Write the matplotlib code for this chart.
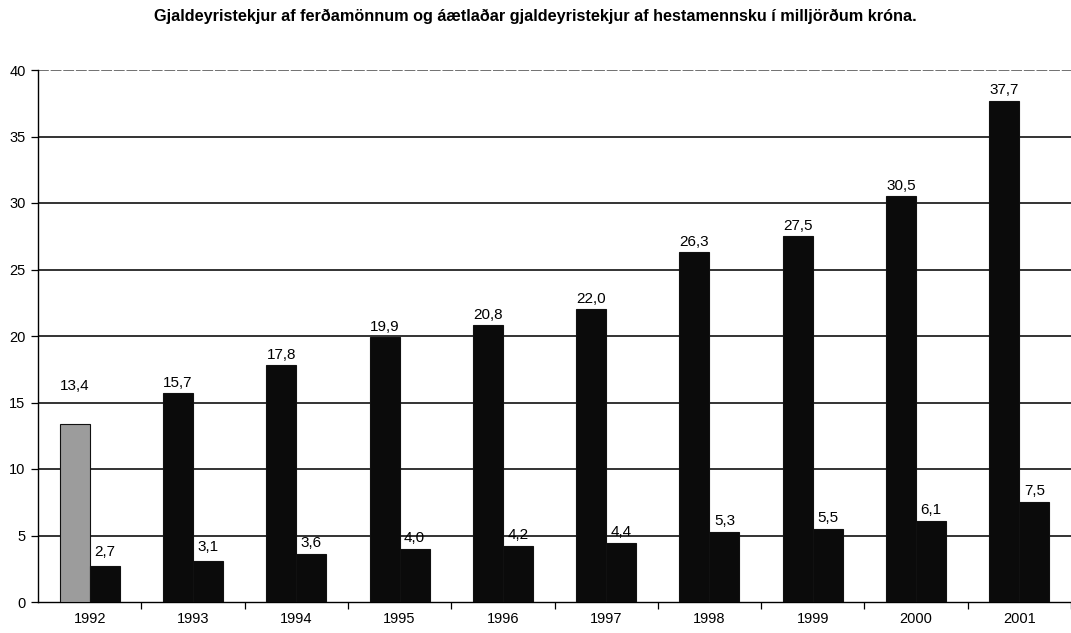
import matplotlib.pyplot as plt
import numpy as np

plt.rcParams['font.family'] = ['Liberation Sans', 'DejaVu Sans']

# 데이터
years = ['1992', '1993', '1994', '1995', '1996', '1997', '1998', '1999', '2000', '2001']
ferdamenn = [13.4, 15.7, 17.8, 19.9, 20.8, 22.0, 26.3, 27.5, 30.5, 37.7]
hestamennska = [2.7, 3.1, 3.6, 4.0, 4.2, 4.4, 5.3, 5.5, 6.1, 7.5]
title = 'Gjaldeyristekjur af ferðamönnum og áætlaðar gjaldeyristekjur af hestamennsku í milljörðum króna.'

fig = plt.figure(figsize=(10.71, 6.33), dpi=100)
ax = fig.add_axes([38 / 1071, 1 - 602 / 633, 1 - 38 / 1071, (602 - 70) / 633])

x = np.arange(len(years))
w = 0.29

colors1 = ['#9c9c9c'] + ['#0b0b0b'] * (len(years) - 1)
ax.bar(x - w / 2, ferdamenn, w, color=colors1, edgecolor='#111111', linewidth=0.8, zorder=3)
ax.bar(x + w / 2, hestamennska, w, color='#0b0b0b', edgecolor='#111111', linewidth=0.8, zorder=3)

def fmt(v):
    return f'{v:.1f}'.replace('.', ',')

for i, v in enumerate(ferdamenn):
    extra = 2.3 if i == 0 else 0.25
    ax.text(x[i] - w / 2, v + extra, fmt(v), ha='center', va='bottom', fontsize=11, zorder=4)
for i, v in enumerate(hestamennska):
    extra = 0.5 if i in (0, 1) else 0.3
    ax.text(x[i] + w / 2, v + extra, fmt(v), ha='center', va='bottom', fontsize=11, zorder=4)

ax.set_ylim(0, 40)
ax.set_xlim(-0.5, -0.5 + (1071 - 38) / 105)
ax.set_yticks(range(0, 41, 5))
ax.set_xticks(x)
ax.set_xticklabels(years)
ax.set_xticks(np.arange(len(years)) + 0.5, minor=True)
ax.tick_params(axis='x', which='major', length=0, pad=7, labelsize=10.5)
ax.tick_params(axis='x', which='minor', length=5, width=0.9, direction='out')
ax.tick_params(axis='y', length=5, width=0.9, direction='out', labelsize=10.5, pad=4)

for yv in range(5, 36, 5):
    ax.axhline(yv, color='#111111', linewidth=1.2, zorder=1)
ax.axhline(40, color='#666666', linewidth=1.3, linestyle=(0, (6, 1)), zorder=1)

for s in ['top', 'right']:
    ax.spines[s].set_visible(False)
ax.spines['left'].set_linewidth(1.0)
ax.spines['bottom'].set_linewidth(1.0)

fig.text(0.5, 1 - 16 / 633, title, ha='center', va='center', fontsize=11.7, fontweight='bold')

fig.savefig('out.png', dpi=100)
